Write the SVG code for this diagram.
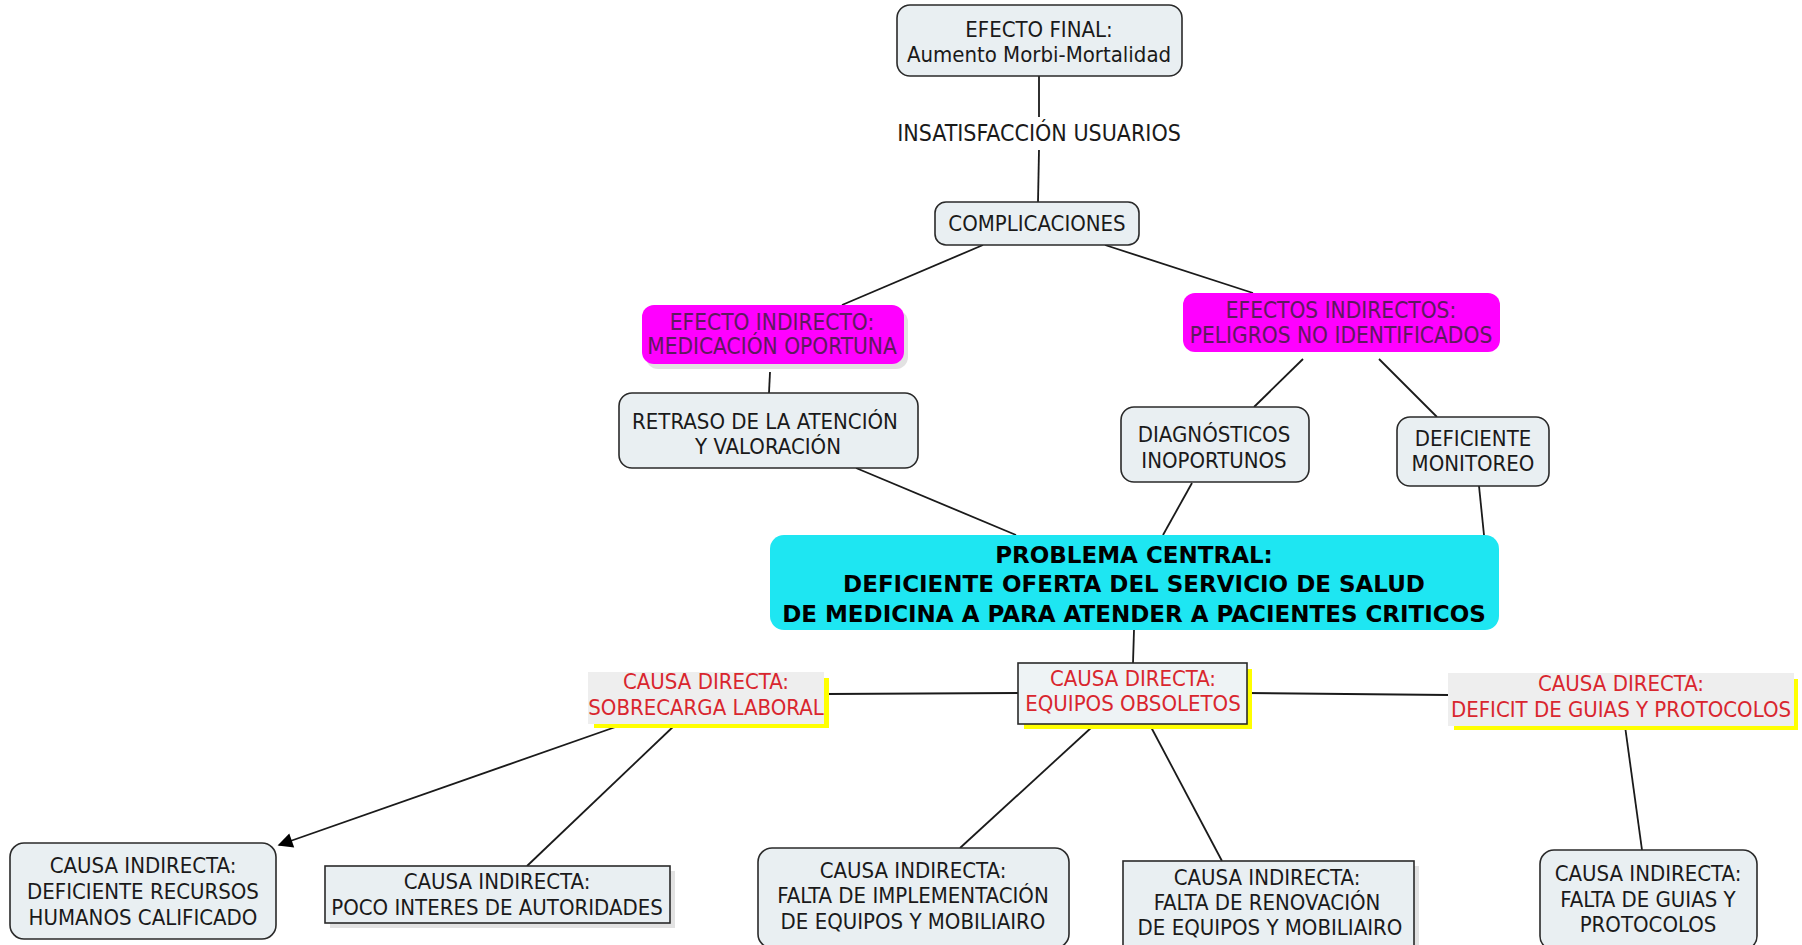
<svg xmlns="http://www.w3.org/2000/svg" width="1802" height="945" viewBox="0 0 1802 945">
<defs>
<style>
text{font-family:"DejaVu Sans Condensed","DejaVu Sans",sans-serif;font-size:22px;fill:#1a1a1a;text-anchor:middle}
.box{fill:#e9eff2;stroke:#2a2a2a;stroke-width:1.6}
.shadow{fill:#cfcfcf}
.mag{fill:#ff00ff}
.magt{fill:#5e1a5e;font-size:22.5px}
.red{fill:#d9262e}
.yel{fill:#ffff00}
.gray{fill:#eeeeee}
.lbl{font-size:23px}
.bold{font-family:"DejaVu Sans",sans-serif;font-weight:bold;font-size:23px;fill:#000}
.conn line{stroke:#1a1a1a;stroke-width:1.8}
</style>
<marker id="arr" viewBox="0 0 10 10" refX="9" refY="5" markerWidth="20" markerHeight="15" markerUnits="userSpaceOnUse" orient="auto">
<path d="M0,0 L10,5 L0,10 z" fill="#000"/>
</marker>
</defs>
<rect width="1802" height="945" fill="#fff"/>

<g class="conn">
<line x1="1039" y1="76" x2="1039" y2="117"/>
<line x1="1039" y1="150" x2="1038" y2="202"/>
<line x1="983" y1="245" x2="842" y2="305"/>
<line x1="1105" y1="245" x2="1253" y2="293"/>
<line x1="770" y1="372" x2="769" y2="393"/>
<line x1="1303" y1="359" x2="1254" y2="407"/>
<line x1="1379" y1="359" x2="1437" y2="417"/>
<line x1="856" y1="468" x2="1016" y2="535"/>
<line x1="1192" y1="483" x2="1163" y2="535"/>
<line x1="1479" y1="486" x2="1484" y2="535"/>
<line x1="1134" y1="630" x2="1133" y2="663"/>
<line x1="827" y1="694" x2="1018" y2="693"/>
<line x1="1247" y1="693" x2="1448" y2="695"/>
<line x1="624" y1="724" x2="279" y2="845" marker-end="url(#arr)"/>
<line x1="676" y1="724" x2="527" y2="866"/>
<line x1="1092" y1="727" x2="960" y2="848"/>
<line x1="1151" y1="727" x2="1222" y2="861"/>
<line x1="1625" y1="726" x2="1642" y2="850"/>
</g>

<g id="efecto-final">
<rect class="box" x="897" y="5" width="285" height="71" rx="13"/>
<text x="1039" y="37">EFECTO FINAL:</text>
<text x="1039" y="62">Aumento Morbi-Mortalidad</text>
</g>

<g id="insatisfaccion">
<text class="lbl" x="1039" y="141">INSATISFACCIÓN USUARIOS</text>
</g>

<g id="complicaciones">
<rect class="box" x="935" y="202" width="204" height="43" rx="11"/>
<text x="1037" y="231">COMPLICACIONES</text>
</g>

<g id="efecto-indirecto">
<rect class="shadow" x="646" y="310" width="262" height="59" rx="12" opacity="0.6"/>
<rect class="mag" x="642" y="305" width="262" height="59" rx="12"/>
<text class="magt" x="772" y="330">EFECTO INDIRECTO:</text>
<text class="magt" x="772" y="354">MEDICACIÓN OPORTUNA</text>
</g>

<g id="efectos-indirectos">
<rect class="mag" x="1183" y="293" width="317" height="59" rx="12"/>
<text class="magt" x="1341" y="318">EFECTOS INDIRECTOS:</text>
<text class="magt" x="1341" y="343">PELIGROS NO IDENTIFICADOS</text>
</g>

<g id="retraso">
<rect class="box" x="619" y="393" width="299" height="75" rx="13"/>
<text x="765" y="429">RETRASO DE LA ATENCIÓN</text>
<text x="768" y="454">Y VALORACIÓN</text>
</g>

<g id="diagnosticos">
<rect class="box" x="1121" y="407" width="188" height="75" rx="13"/>
<text x="1214" y="442">DIAGNÓSTICOS</text>
<text x="1214" y="468">INOPORTUNOS</text>
</g>

<g id="deficiente-monitoreo">
<rect class="box" x="1397" y="417" width="152" height="69" rx="13"/>
<text x="1473" y="446">DEFICIENTE</text>
<text x="1473" y="471">MONITOREO</text>
</g>

<g id="problema-central">
<rect x="770" y="535" width="729" height="95" rx="14" fill="#1ee6f2"/>
<text class="bold" x="1134" y="563">PROBLEMA CENTRAL:</text>
<text class="bold" x="1134" y="592">DEFICIENTE OFERTA DEL SERVICIO DE SALUD</text>
<text class="bold" x="1134" y="622">DE MEDICINA A PARA ATENDER A PACIENTES CRITICOS</text>
</g>

<g id="sobrecarga">
<rect class="yel" x="594" y="678" width="235" height="50"/>
<rect class="gray" x="588" y="672" width="236" height="52"/>
<text class="red" x="706" y="689">CAUSA DIRECTA:</text>
<text class="red" x="706" y="715">SOBRECARGA LABORAL</text>
</g>

<g id="equipos">
<rect class="yel" x="1024" y="669" width="228" height="60"/>
<rect x="1018" y="663" width="229" height="61" fill="#eef3f5" stroke="#2a2a2a" stroke-width="1.6"/>
<text class="red" x="1133" y="686">CAUSA DIRECTA:</text>
<text class="red" x="1133" y="711">EQUIPOS OBSOLETOS</text>
</g>

<g id="deficit">
<rect class="yel" x="1454" y="679" width="344" height="51"/>
<rect class="gray" x="1448" y="673" width="346" height="53"/>
<text class="red" x="1621" y="691">CAUSA DIRECTA:</text>
<text class="red" x="1621" y="717">DEFICIT DE GUIAS Y PROTOCOLOS</text>
</g>

<g id="deficiente-recursos">
<rect class="box" x="10" y="843" width="266" height="96" rx="14"/>
<text x="143" y="873">CAUSA INDIRECTA:</text>
<text x="143" y="899">DEFICIENTE RECURSOS</text>
<text x="143" y="925">HUMANOS CALIFICADO</text>
</g>

<g id="poco-interes">
<rect class="shadow" x="330" y="871" width="345" height="57" opacity="0.6"/>
<rect class="box" x="325" y="866" width="345" height="57"/>
<text x="497" y="889">CAUSA INDIRECTA:</text>
<text x="497" y="915">POCO INTERES DE AUTORIDADES</text>
</g>

<g id="falta-implementacion">
<rect class="box" x="758" y="848" width="311" height="100" rx="14"/>
<text x="913" y="878">CAUSA INDIRECTA:</text>
<text x="913" y="903">FALTA DE IMPLEMENTACIÓN</text>
<text x="913" y="929">DE EQUIPOS Y MOBILIAIRO</text>
</g>

<g id="falta-renovacion">
<rect class="shadow" x="1128" y="866" width="291" height="85" opacity="0.6"/>
<rect class="box" x="1123" y="861" width="291" height="90"/>
<text x="1267" y="885">CAUSA INDIRECTA:</text>
<text x="1267" y="910">FALTA DE RENOVACIÓN</text>
<text x="1270" y="935">DE EQUIPOS Y MOBILIAIRO</text>
</g>

<g id="falta-guias">
<rect class="box" x="1540" y="850" width="217" height="100" rx="14"/>
<text x="1648" y="881">CAUSA INDIRECTA:</text>
<text x="1648" y="907">FALTA DE GUIAS Y</text>
<text x="1648" y="932">PROTOCOLOS</text>
</g>
</svg>
